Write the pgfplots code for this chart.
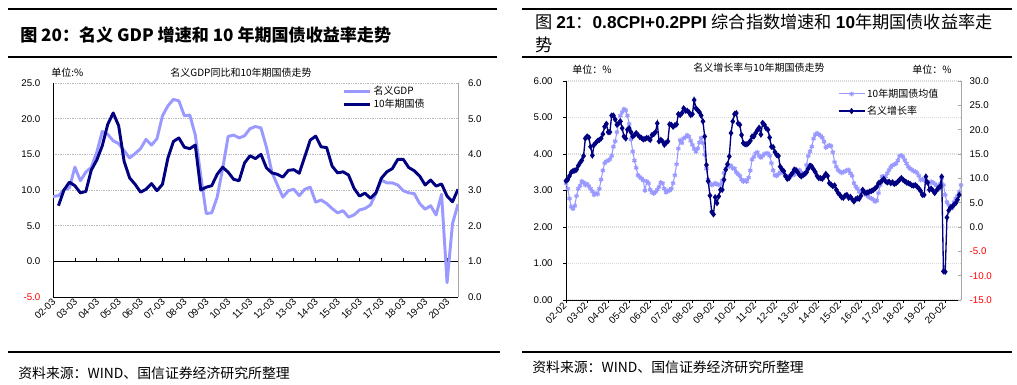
\documentclass[border=0pt]{standalone}
\usepackage{pgfplots}
\pgfplotsset{compat=1.18}
\usepackage{fontspec}
\setmainfont{Liberation Sans}
\newfontfamily\cjk{Noto Sans CJK SC}
\definecolor{lightser}{RGB}{153,153,255}
\definecolor{darkser}{RGB}{0,0,128}
\newcommand\tickfont{\fontsize{7.3}{8.8}\selectfont}
\newcommand\smallcjk{\cjk\fontsize{7.5}{9}\selectfont}
\pgfplotsset{
  legimg/.style={legend image code/.code={\draw[##1,mark repeat=2,mark phase=2] plot coordinates {(0cm,0cm) (0.34cm,0cm) (0.68cm,0cm)};}},
}
\begin{document}
\begin{tikzpicture}
\useasboundingbox (0pt,0pt) rectangle (762.75pt,288.75pt);
\begin{scope}[x=0.75pt,y=0.75pt]
% ---------- frame texts and rules ----------
\draw[line width=0.9pt] (8,376) -- (497,376);
\draw[line width=0.9pt] (8,328) -- (497,328);
\draw[line width=0.8pt] (8,33) -- (500,33);
\draw[line width=0.9pt] (522,376) -- (1012,376);
\draw[line width=0.9pt] (522,328) -- (1012,328);
\draw[line width=0.8pt] (522,33) -- (1012,33);
\node[anchor=west,inner sep=0pt] at (20,350) {\cjk\bfseries\fontsize{12.8}{14}\selectfont 图 20：名义 GDP 增速和 10 年期国债收益率走势};
\node[anchor=west,inner sep=0pt] at (535,363) {\fontsize{12.9}{14}\selectfont{\cjk 图 }{\bfseries 21}{\cjk ：}{\bfseries 0.8CPI+0.2PPI}\ {\cjk 综合指数增速和 }{\bfseries 10}{\cjk 年期国债收益率走}};
\node[anchor=west,inner sep=0pt] at (535,340) {\cjk\fontsize{12.9}{14}\selectfont 势};
\node[anchor=west,inner sep=0pt] at (18,12) {\cjk\fontsize{10.4}{12}\selectfont 资料来源：WIND、国信证券经济研究所整理};
\node[anchor=west,inner sep=0pt] at (532,18) {\cjk\fontsize{10.4}{12}\selectfont 资料来源：WIND、国信证券经济研究所整理};
% chart inner titles
\node[anchor=west,inner sep=0pt] at (51,312) {\smallcjk 单位:\%};
\node[inner sep=0pt] at (241,312) {\smallcjk 名义GDP同比和10年期国债走势};
\node[anchor=west,inner sep=0pt] at (572,315) {\smallcjk 单位：\%};
\node[inner sep=0pt] at (759,317) {\smallcjk 名义增长率与10年期国债走势};
\node[anchor=west,inner sep=0pt] at (912,315) {\smallcjk 单位：\%};
\end{scope}

% ================= LEFT CHART =================
\begin{axis}[
  at={(39.75pt,66pt)}, anchor=south west, scale only axis,
  width=303.75pt, height=160.5pt,
  xmin=0, xmax=74, ymin=-5, ymax=25,
  axis y line*=left, axis x line*=bottom,
  axis line style={-, black, line width=0.7pt},
  xtick={0,4,...,72},
  xticklabels={02-03,03-03,04-03,05-03,06-03,07-03,08-03,09-03,10-03,11-03,12-03,13-03,14-03,15-03,16-03,17-03,18-03,19-03,20-03},
  xtick style={draw=none},
  xticklabel style={rotate=45, anchor=east, font=\tickfont, inner sep=1pt, yshift=-2pt},
  ytick={-5,0,...,25},
  yticklabels={\textcolor{red}{-5.0},0.0,5.0,10.0,15.0,20.0,25.0},
  yticklabel style={font=\tickfont, xshift=-6pt},
  ytick style={draw=none},
  ymajorgrids,
  major grid style={gray!55, line width=0.5pt, dash pattern=on 1pt off 0.8pt},
]
\draw[black, line width=0.7pt] (axis cs:0,0) -- (axis cs:74,0);
\pgfplotsinvokeforeach{4,8,12,16,20,24,28,32,36,40,44,48,52,56,60,64,68,72}{
  \draw[black, line width=0.5pt] (axis cs:#1,0) -- ([yshift=2.5pt]axis cs:#1,0);
}
\addplot[lightser, line width=2.2pt, line join=round] coordinates {
(0,9.1) (1,9.2) (2,10.0) (3,10.3) (4,13.2) (5,11.3) (6,12.5) (7,13.2) (8,15.3) (9,18.2)
(10,17.8) (11,16.9) (12,16.5) (13,15.5) (14,14.5) (15,15.1) (16,15.8) (17,17.1) (18,16.3) (19,17.2)
(20,20.4) (21,21.8) (22,22.7) (23,22.5) (24,20.4) (25,20.5) (26,17.7) (27,12.0) (28,6.7) (29,6.8)
(30,9.0) (31,13.0) (32,17.5) (33,17.7) (34,17.3) (35,17.6) (36,18.6) (37,18.9) (38,18.7) (39,16.0)
(40,12.5) (41,10.7) (42,9.0) (43,9.9) (44,10.1) (45,9.2) (46,10.1) (47,10.4) (48,8.3) (49,8.6)
(50,8.1) (51,7.4) (52,6.8) (53,7.1) (54,6.2) (55,6.5) (56,7.2) (57,7.4) (58,7.9) (59,9.5)
(60,11.4) (61,11.0) (62,11.0) (63,10.7) (64,9.9) (65,9.6) (66,9.5) (67,8.1) (68,7.3) (69,7.8)
(70,6.5) (71,9.4) (72,-3.0) (73,5.3) (74,8.0)
};
\end{axis}
\begin{axis}[
  at={(39.75pt,66pt)}, anchor=south west, scale only axis,
  width=303.75pt, height=160.5pt,
  xmin=0, xmax=74, ymin=0, ymax=6,
  axis y line*=right, axis x line=none,
  axis line style={-, gray!70, line width=0.7pt},
  xtick=\empty,
  ytick={0,1,...,6},
  yticklabels={0.0,1.0,2.0,3.0,4.0,5.0,6.0},
  yticklabel style={font=\tickfont, xshift=4pt},
  ytick style={draw=none},
  legimg,
  legend style={draw=none, fill=none, at={(0.715,0.995)}, anchor=north west,
    font=\smallcjk, row sep=-1pt, inner sep=0pt, nodes={inner sep=1.5pt}},
  legend cell align=left,
]
\addlegendimage{lightser, line width=2.2pt}
\addlegendentry{名义GDP}
\addplot[darkser, line width=2.2pt, line join=round] coordinates {
(1,2.56) (2,3.0) (3,3.22) (4,3.12) (5,2.92) (6,2.96) (7,3.56) (8,3.84) (9,4.24)
(10,4.84) (11,5.16) (12,4.8) (13,3.8) (14,3.34) (15,3.16) (16,2.94) (17,3.02) (18,3.18) (19,2.98)
(20,3.16) (21,3.9) (22,4.36) (23,4.46) (24,4.2) (25,4.16) (26,4.26) (27,3.0) (28,3.08) (29,3.12)
(30,3.44) (31,3.64) (32,3.5) (33,3.3) (34,3.26) (35,3.76) (36,3.96) (37,3.88) (38,4.0) (39,3.62)
(40,3.48) (41,3.44) (42,3.36) (43,3.55) (44,3.57) (45,3.47) (46,3.93) (47,4.40) (48,4.51) (49,4.21)
(50,4.19) (51,3.67) (52,3.48) (53,3.51) (54,3.42) (55,3.05) (56,2.83) (57,2.91) (58,2.77) (59,2.92)
(60,3.33) (61,3.51) (62,3.6) (63,3.86) (64,3.86) (65,3.63) (66,3.54) (67,3.39) (68,3.14) (69,3.28)
(70,3.11) (71,3.17) (72,2.83) (73,2.67) (74,3.02)
};
\addlegendentry{10年期国债}
\end{axis}

% ================= RIGHT CHART =================
\begin{axis}[
  at={(424.5pt,63.75pt)}, anchor=south west, scale only axis,
  width=296.25pt, height=164.25pt,
  xmin=0, xmax=225, ymin=0, ymax=6,
  axis y line*=left, axis x line*=bottom,
  axis line style={-, black, line width=0.7pt},
  tick align=outside, major tick length=2.5pt,
  tick style={black, line width=0.5pt},
  xtick={0,12,...,216},
  xticklabels={02-02,03-02,04-02,05-02,06-02,07-02,08-02,09-02,10-02,11-02,12-02,13-02,14-02,15-02,16-02,17-02,18-02,19-02,20-02},
  xticklabel style={rotate=45, anchor=east, font=\tickfont, inner sep=1pt},
  ytick={0,1,...,6},
  yticklabels={0.00,1.00,2.00,3.00,4.00,5.00,6.00},
  yticklabel style={font=\tickfont, xshift=-4pt},
  ymajorgrids,
  major grid style={gray!30, line width=1.1pt, dash pattern=on 1pt off 0.5pt},
]
\addplot[lightser, line width=0.8pt, mark=asterisk, mark size=1.8pt, mark options={line width=0.9pt}] coordinates {
(0,3.20) (1,3.05) (2,2.78) (3,2.55) (4,2.50) (5,2.58) (6,2.85) (7,3.05) (8,3.13) (9,3.25)
(10,3.22) (11,3.15) (12,3.18) (13,3.12) (14,3.05) (15,2.98) (16,2.88) (17,2.93) (18,2.90) (19,3.05)
(20,3.30) (21,3.55) (22,3.75) (23,3.80) (24,3.82) (25,3.86) (26,3.95) (27,4.20) (28,4.35) (29,4.60)
(30,4.85) (31,5.05) (32,5.15) (33,5.23) (34,5.20) (35,5.05) (36,4.82) (37,4.40) (38,4.07) (39,3.82)
(40,3.62) (41,3.42) (42,3.37) (43,3.33) (44,3.28) (45,3.00) (46,3.25) (47,3.20) (48,3.02) (49,2.95)
(50,2.92) (51,2.96) (52,3.02) (53,3.10) (54,3.22) (55,3.20) (56,3.05) (57,2.95) (58,2.99) (59,3.00)
(60,3.05) (61,3.20) (62,3.42) (63,3.72) (64,4.15) (65,4.38) (66,4.30) (67,4.43) (68,4.46) (69,4.52)
(70,4.48) (71,4.36) (72,4.25) (73,4.14) (74,4.07) (75,4.15) (76,4.32) (77,4.44) (78,4.30) (79,3.98)
(80,3.60) (81,3.30) (82,3.18) (83,3.15) (84,3.17) (85,3.20) (86,3.17) (87,3.16) (88,3.16) (89,3.27)
(90,3.48) (91,3.60) (92,3.70) (93,3.66) (94,3.68) (95,3.61) (96,3.60) (97,3.50) (98,3.45) (99,3.40)
(100,3.30) (101,3.25) (102,3.27) (103,3.25) (104,3.35) (105,3.55) (106,3.85) (107,3.92) (108,4.02) (109,4.05)
(110,3.95) (111,3.90) (112,3.95) (113,4.00) (114,4.02) (115,4.02) (116,3.95) (117,3.75) (118,3.55) (119,3.42)
(120,3.40) (121,3.45) (122,3.50) (123,3.50) (124,3.47) (125,3.40) (126,3.38) (127,3.34) (128,3.40) (129,3.43)
(130,3.43) (131,3.49) (132,3.55) (133,3.56) (134,3.50) (135,3.45) (136,3.45) (137,3.70) (138,3.95) (139,4.07)
(140,4.20) (141,4.42) (142,4.53) (143,4.57) (144,4.54) (145,4.50) (146,4.45) (147,4.34) (148,4.18) (149,4.21)
(150,4.24) (151,4.22) (152,4.05) (153,3.78) (154,3.65) (155,3.56) (156,3.52) (157,3.48) (158,3.51) (159,3.52)
(160,3.56) (161,3.56) (162,3.47) (163,3.40) (164,3.20) (165,3.11) (166,3.05) (167,2.96) (168,2.95) (169,3.00)
(170,2.98) (171,2.88) (172,2.84) (173,2.80) (174,2.78) (175,2.75) (176,2.70) (177,2.72) (178,2.93) (179,3.15)
(180,3.38) (181,3.38) (182,3.38) (183,3.47) (184,3.56) (185,3.64) (186,3.69) (187,3.71) (188,3.74) (189,3.82)
(190,3.94) (191,3.96) (192,3.92) (193,3.83) (194,3.74) (195,3.65) (196,3.60) (197,3.57) (198,3.53) (199,3.52)
(200,3.48) (201,3.40) (202,3.29) (203,3.31) (204,3.28) (205,3.24) (206,3.20) (207,3.20) (208,3.24) (209,3.22)
(210,3.18) (211,3.14) (212,3.02) (213,3.18) (214,3.34) (215,3.15) (216,2.88) (217,2.68) (218,2.60) (219,2.55)
(220,2.52) (221,2.68) (222,2.78) (223,2.85) (224,2.96) (225,3.15)
};
\end{axis}
\begin{axis}[
  at={(424.5pt,63.75pt)}, anchor=south west, scale only axis,
  width=296.25pt, height=164.25pt,
  xmin=0, xmax=225, ymin=-15, ymax=30,
  axis y line*=right, axis x line=none,
  axis line style={-, gray!70, line width=0.7pt},
  xtick=\empty,
  ytick={-15,-10,...,30},
  yticklabels={\textcolor{red}{-15.0},\textcolor{red}{-10.0},\textcolor{red}{-5.0},0.0,5.0,10.0,15.0,20.0,25.0,30.0},
  yticklabel style={font=\tickfont, xshift=3pt},
  tick align=inside, major tick length=2.5pt,
  ytick style={gray!70, line width=0.5pt},
  legimg,
  legend style={draw=none, fill=none, at={(0.688,0.975)}, anchor=north west,
    font=\smallcjk, row sep=2pt, inner sep=0pt, nodes={inner sep=1.5pt}},
  legend cell align=left,
]
\addlegendimage{lightser, line width=0.8pt, mark=asterisk, mark size=1.8pt, mark options={line width=0.9pt}}
\addlegendentry{10年期国债均值}
\addplot[darkser, line width=1pt, mark=diamond*, mark size=1.6pt] coordinates {
(0,9.5) (1,9.75) (2,10.5) (3,11.25) (4,11.5) (5,11.6) (6,11.8) (7,12.6) (8,13.2) (9,13.7)
(10,14.6) (11,18.2) (12,18.6) (13,18.4) (14,16.5) (15,14.7) (16,16.9) (17,17.3) (18,17.7) (19,17.9)
(20,18.2) (21,19.1) (22,20.6) (23,21.2) (24,19.5) (25,19.5) (26,22.9) (27,22.9) (28,22.1) (29,21.0)
(30,21.3) (31,21.7) (32,20.3) (33,18.6) (34,18.2) (35,20.0) (36,20.3) (37,19.5) (38,18.6) (39,18.9)
(40,19.3) (41,18.9) (42,18.5) (43,18.3) (44,18.0) (45,18.1) (46,18.3) (47,18.2) (48,17.9) (49,18.9)
(50,19.1) (51,19.5) (52,21.3) (53,17.6) (54,17.9) (55,17.6) (56,16.9) (57,17.3) (58,17.6) (59,21.1)
(60,21.0) (61,20.6) (62,20.9) (63,21.1) (64,23.2) (65,23.0) (66,23.4) (67,24.4) (68,23.9) (69,23.9)
(70,23.6) (71,23.0) (72,23.2) (73,26.1) (74,24.4) (75,24.0) (76,23.6) (77,22.9) (78,21.7) (79,18.6)
(80,12.75) (81,9.4) (82,6.45) (83,3.1) (84,2.6) (85,6.1) (86,4.9) (87,6.3) (88,7.65) (89,7.65)
(90,9.7) (91,11.8) (92,12.9) (93,14.5) (94,19.3) (95,21.7) (96,23.2) (97,23.4) (98,21.3) (99,21.0)
(100,18.9) (101,17.25) (102,17.0) (103,17.0) (104,17.25) (105,17.7) (106,18.6) (107,18.6) (108,19.3) (109,19.9)
(110,20.4) (111,19.0) (112,21.4) (113,21.0) (114,20.3) (115,20.0) (116,18.4) (117,16.5) (118,16.4) (119,15.4)
(120,14.8) (121,14.6) (122,12.4) (123,11.85) (124,11.5) (125,10.5) (126,9.9) (127,10.05) (128,10.65) (129,11.1)
(130,11.8) (131,11.7) (132,11.25) (133,10.7) (134,10.4) (135,10.65) (136,10.9) (137,11.25) (138,12.0) (139,12.6)
(140,12.45) (141,11.85) (142,11.3) (143,10.5) (144,10.05) (145,10.05) (146,9.9) (147,10.35) (148,10.9) (149,10.5)
(150,9.0) (151,8.7) (152,8.4) (153,8.55) (154,7.65) (155,7.0) (156,6.6) (157,6.1) (158,6.0) (159,6.45)
(160,6.6) (161,6.0) (162,6.2) (163,5.7) (164,5.25) (165,5.7) (166,5.9) (167,5.8) (168,6.4) (169,7.65)
(170,7.1) (171,7.0) (172,7.1) (173,7.3) (174,7.4) (175,7.6) (176,7.9) (177,8.25) (178,9.0) (179,9.2)
(180,9.5) (181,9.9) (182,9.4) (183,9.15) (184,9.3) (185,9.0) (186,9.2) (187,8.85) (188,9.0) (189,9.3)
(190,9.7) (191,10.05) (192,9.7) (193,9.4) (194,9.15) (195,9.0) (196,8.85) (197,8.55) (198,8.5) (199,8.6)
(200,8.3) (201,7.9) (202,7.4) (203,6.6) (204,6.6) (205,10.35) (206,9.15) (207,7.65) (208,7.9) (209,7.5)
(210,7.0) (211,7.5) (212,8.0) (213,8.25) (214,10.35) (215,-9.1) (216,-9.2) (217,1.95) (218,3.4) (219,4.0)
(220,4.2) (221,4.6) (222,4.9) (223,5.6) (224,6.6)
};
\addlegendentry{名义增长率}
\end{axis}
\end{tikzpicture}
\end{document}
